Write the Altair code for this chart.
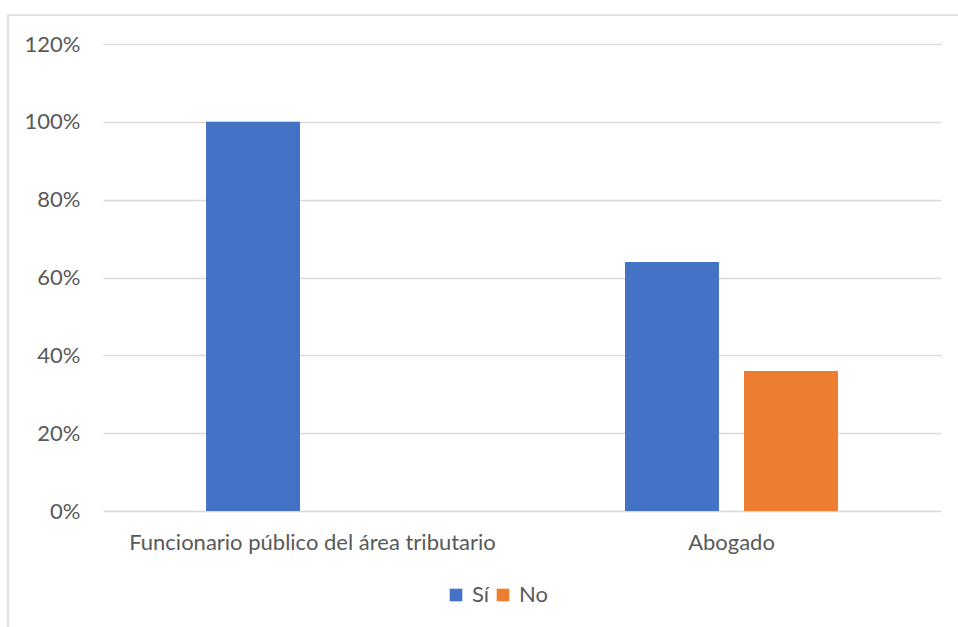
import altair as alt
import pandas as pd

categories = ["Funcionario público del área tributario", "Abogado"]
series = ["Sí", "No"]
si_values = [1.00, 0.64]
no_values = [0.00, 0.36]

rows = []
for c, s_v, n_v in zip(categories, si_values, no_values):
    rows.append({"cat": c, "serie": "Sí", "val": s_v})
    rows.append({"cat": c, "serie": "No", "val": n_v})
df = pd.DataFrame(rows)

FONT = "Lato"
GRAY = "#595959"
FS = 22
W, H = 838, 467

bars = alt.Chart(df).mark_bar().encode(
    x=alt.X("cat:N", sort=categories, title=None,
            scale=alt.Scale(paddingInner=0, paddingOuter=0),
            axis=alt.Axis(labelAngle=0, labelFont=FONT, labelFontSize=FS, labelColor=GRAY,
                          labelPadding=21, labelLimit=0, tickSize=0, domain=False, grid=False)),
    xOffset=alt.XOffset("serie:N", sort=series,
                        scale=alt.Scale(paddingInner=0.21, paddingOuter=0.866)),
    y=alt.Y("val:Q", title=None,
            scale=alt.Scale(domain=[0, 1.2], nice=False),
            axis=alt.Axis(values=[0, 0.2, 0.4, 0.6, 0.8, 1.0, 1.2], format=".0%",
                          labelFont=FONT, labelFontSize=FS, labelColor=GRAY,
                          labelPadding=23, tickSize=0, domain=False,
                          gridColor="#D9D9D9", gridWidth=1.3)),
    color=alt.Color("serie:N", sort=series,
                    scale=alt.Scale(domain=series, range=["#4472C4", "#ED7D31"]),
                    legend=alt.Legend(title=None, orient="none", direction="horizontal",
                                      legendX=342, legendY=540, symbolType="square",
                                      symbolSize=160, symbolStrokeWidth=0,
                                      labelFont=FONT, labelFontSize=FS, labelColor=GRAY,
                                      columnPadding=2, labelOffset=5)),
)

frame = alt.Chart(pd.DataFrame({"a": [0]})).mark_rect(
    fill="transparent", stroke="#D9D9D9", strokeWidth=1.5
).encode(
    x=alt.value(-95), x2=alt.value(W + 40),
    y=alt.value(-29), y2=alt.value(H + 140),
)

chart = alt.layer(frame, bars).properties(
    width=W, height=H,
    autosize=alt.AutoSizeParams(type="none"),
    padding={"left": 103, "top": 44, "right": 17, "bottom": 116},
).configure(background="white").configure_view(strokeWidth=0, stroke="transparent")

chart.save("out.html", embed_options={"renderer": "svg", "actions": False})
